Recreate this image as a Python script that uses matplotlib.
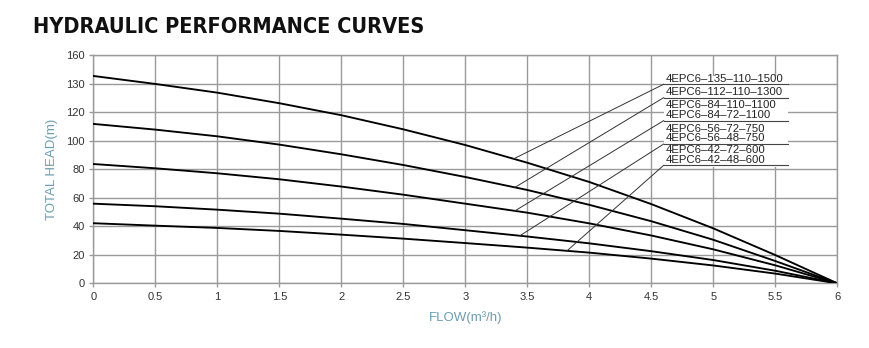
import numpy as np
import matplotlib
matplotlib.use("Agg")
import matplotlib.pyplot as plt
from matplotlib.patches import Rectangle

plt.rcParams['font.family'] = ['Liberation Sans', 'DejaVu Sans']

# Flow points (m3/h)
flow = [0, 0.5, 1, 1.5, 2, 2.5, 3, 3.5, 4, 4.5, 5, 5.5, 6]

# Head curves (plotted on the evenly spaced grid)
head_135 = [145.3, 139.7, 133.6, 126.2, 117.8, 107.9, 96.9, 84.5, 71.0, 55.5, 38.5, 19.8, 0]
head_112 = [111.7, 107.7, 103.0, 97.2, 90.4, 82.9, 74.5, 65.4, 55.0, 43.5, 30.5, 15.6, 0]
head_84 = [83.6, 80.6, 77.1, 72.9, 67.8, 62.1, 55.8, 49.5, 42.0, 33.5, 23.8, 12.6, 0]
head_56 = [55.8, 54.0, 51.6, 48.8, 45.3, 41.6, 37.2, 32.8, 28.0, 22.5, 16.3, 8.8, 0]
head_42 = [42.1, 40.4, 38.8, 36.7, 34.1, 31.3, 28.2, 25.0, 21.5, 17.3, 12.5, 6.8, 0]
curves = [head_135, head_112, head_84, head_56, head_42]

# Model names, grouped by the curve they point to
models = [
    ["4EPC6–135–110–1500"],
    ["4EPC6–112–110–1300"],
    ["4EPC6–84–110–1100", "4EPC6–84–72–1100"],
    ["4EPC6–56–72–750", "4EPC6–56–48–750"],
    ["4EPC6–42–72–600", "4EPC6–42–48–600"],
]

# Where each leader line touches its curve
leader_flow = [3.39, 3.40, 3.40, 3.44, 3.82]

x_ticks = [0, 0.5, 1, 1.5, 2, 2.5, 3, 3.5, 4, 4.5, 5, 5.5, 6]
x_labels = ["0", "0.5", "1", "1.5", "2", "2.5", "3", "3.5", "4", "4.5", "5", "5.5", "6"]
y_ticks = [0, 20, 40, 60, 80, 100, 120, 140, 160]
y_labels = ["0", "20", "40", "60", "80", "100", "120", "130", "160"]

grid_col = "#9a9a9a"
axis_col = "#6b9db3"

fig = plt.figure(figsize=(8.7, 3.48), dpi=100)
ax = fig.add_axes([0.1073, 0.1859, 0.9624 - 0.1073, 0.842 - 0.1859])

ax.set_xlim(0, 6)
ax.set_ylim(0, 160)
ax.set_xticks(x_ticks)
ax.set_xticklabels(x_labels)
ax.set_yticks(y_ticks)
ax.set_yticklabels(y_labels)
ax.grid(True, color=grid_col, lw=1.0, zorder=0)
ax.set_axisbelow(True)
for s in ax.spines.values():
    s.set_color(grid_col)
    s.set_linewidth(1.0)
ax.tick_params(colors=grid_col, labelcolor="#333333", labelsize=8, length=3, width=1.0, pad=3)

for h in curves:
    ax.plot(flow, h, color="black", lw=1.35, zorder=3, solid_joinstyle="round")

# label block: white box hides the grid under the names
box_x0, box_x1 = 4.60, 5.60
ax.add_patch(Rectangle((box_x0, 81.5), box_x1 - box_x0, 63.5, facecolor="white",
                       edgecolor="none", zorder=2))

underline_y = [139.5, 130.1, 114.0, 97.6, 82.7]
for i, names in enumerate(models):
    uy = underline_y[i]
    ax.plot([box_x0, box_x1], [uy, uy], color="#444444", lw=0.8, zorder=4)
    # leader line from underline to curve
    fx = leader_flow[i]
    fy = np.interp(fx, flow, curves[i])
    ax.plot([box_x0, fx], [uy, fy], color="#333333", lw=0.7, zorder=4)
    for j, name in enumerate(names[::-1]):
        ax.text(box_x0 + 0.02, uy + 4.0 + j * 6.7, name, fontsize=8.2,
                color="#222222", va="center", ha="left", zorder=5)

ax.set_xlabel("FLOW(m³/h)", color=axis_col, fontsize=9.5, labelpad=7)
ax.set_ylabel("TOTAL HEAD(m)", color=axis_col, fontsize=9.5, labelpad=6)

fig.text(0.038, 0.922, "HYDRAULIC PERFORMANCE CURVES",
         family="DejaVu Sans", fontweight="bold", fontstretch="condensed",
         fontsize=15.6, color="#111111", va="center", ha="left")

fig.savefig("out.png", dpi=100)
